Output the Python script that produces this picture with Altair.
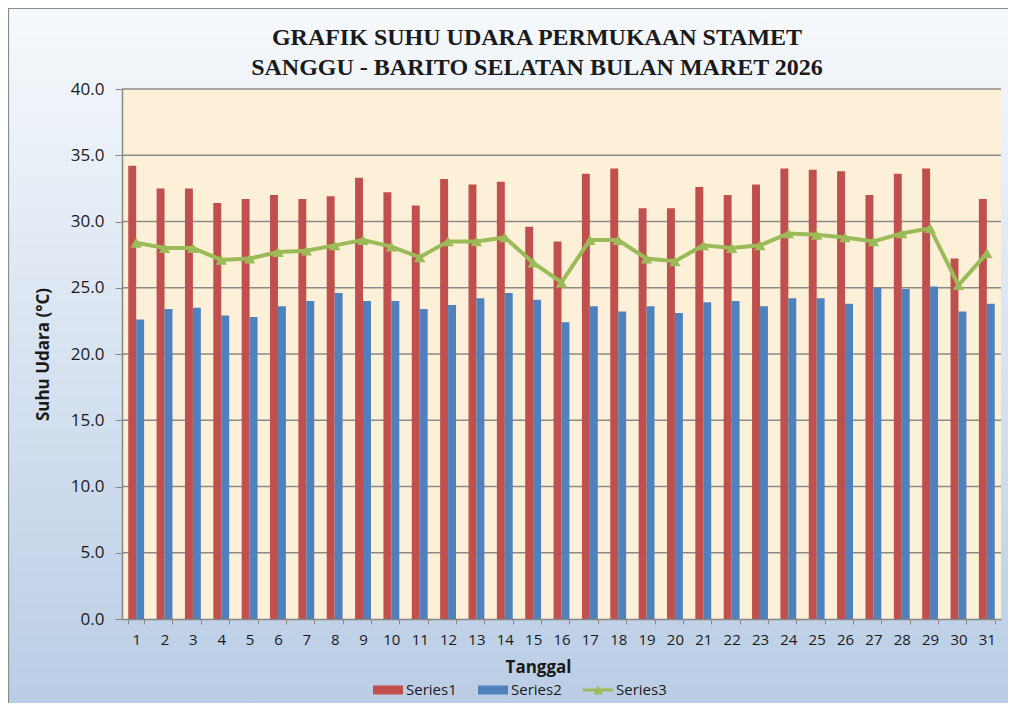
import altair as alt
import pandas as pd

tanggal = list(range(1, 32))
series1 = [34.2, 32.5, 32.5, 31.4, 31.7, 32.0, 31.7, 31.9, 33.3, 32.2,
           31.2, 33.2, 32.8, 33.0, 29.6, 28.5, 33.6, 34.0, 31.0, 31.0,
           32.6, 32.0, 32.8, 34.0, 33.9, 33.8, 32.0, 33.6, 34.0, 27.2, 31.7]
series2 = [22.6, 23.4, 23.5, 22.9, 22.8, 23.6, 24.0, 24.6, 24.0, 24.0,
           23.4, 23.7, 24.2, 24.6, 24.1, 22.4, 23.6, 23.2, 23.6, 23.1,
           23.9, 24.0, 23.6, 24.2, 24.2, 23.8, 25.0, 24.9, 25.1, 23.2, 23.8]
series3 = [28.4, 28.0, 28.0, 27.1, 27.2, 27.7, 27.8, 28.2, 28.6, 28.1,
           27.3, 28.5, 28.5, 28.8, 26.9, 25.4, 28.6, 28.6, 27.2, 27.0,
           28.2, 28.0, 28.2, 29.1, 29.0, 28.8, 28.5, 29.1, 29.5, 25.2, 27.6]
series_names = ["Series1", "Series2", "Series3"]
series_colors = ["#C0504D", "#4F81BD", "#9BBB59"]
y_ticks = [0, 5, 10, 15, 20, 25, 30, 35, 40]
title_lines = ["GRAFIK SUHU UDARA PERMUKAAN STAMET",
               "SANGGU - BARITO SELATAN BULAN MARET 2026"]
y_title = "Suhu Udara (°C)"
x_title = "Tanggal"

W, H = 879, 530
LABEL_FONT = "Open Sans"

bars_df = pd.DataFrame({
    "tanggal": tanggal * 2,
    "series": ["Series1"] * len(tanggal) + ["Series2"] * len(tanggal),
    "value": series1 + series2,
})
line_df = pd.DataFrame({"tanggal": tanggal, "series": "Series3", "value": series3})
grid_df = pd.DataFrame({"value": y_ticks[1:]})
one_df = pd.DataFrame({"k": [0]})

x_scale = alt.Scale(type="band", paddingInner=0.44, paddingOuter=0.22)
y_scale = alt.Scale(domain=[0, 40], nice=False)
color_scale = alt.Scale(domain=series_names, range=series_colors)
rect_path = "M-1,-0.3H1V0.3H-1Z"
line_path = "M-1,-0.1H1V0.1H-1Z M-0.32,0.3L0,-0.3L0.32,0.3Z"
shape_scale = alt.Scale(domain=series_names, range=[rect_path, rect_path, line_path])

legend = alt.Legend(
    title=None, orient="none", legendX=251, legendY=586, direction="horizontal",
    symbolSize=900, symbolStrokeWidth=0, labelFont=LABEL_FONT, labelFontSize=15,
    labelColor="#1a1a1a", labelOffset=3, columnPadding=21,
)

x_axis = alt.Axis(
    labelAngle=0, labelFont=LABEL_FONT, labelFontSize=15, labelColor="#1a1a1a",
    labelPadding=8, tickSize=5, tickColor="#868686", tickBand="extent",
    domainColor="#868686", domainWidth=1.5,
    titleFont=LABEL_FONT, titleFontSize=17, titleFontWeight="bold", titleColor="#1a1a1a",
    titleX=416, titleY=48, titleBaseline="middle", titleAlign="center", zindex=1,
)
y_axis = alt.Axis(
    values=y_ticks, format=".1f", grid=False, labelFont=LABEL_FONT, labelFontSize=17,
    labelColor="#1a1a1a", labelPadding=11, tickSize=7, tickColor="#868686",
    domainColor="#868686", domainWidth=1.5,
    titleFont=LABEL_FONT, titleFontSize=17, titleFontWeight="bold", titleColor="#1a1a1a",
    titlePadding=18, zindex=1,
)

X = alt.X("tanggal:O", scale=x_scale, axis=x_axis, title=x_title)
Y = alt.Y("value:Q", scale=y_scale, axis=y_axis, title=y_title)

bg = alt.Chart(one_df).mark_rect(
    fill=alt.Gradient(
        gradient="linear",
        stops=[alt.GradientStop(color="#f6f9fc", offset=0),
               alt.GradientStop(color="#d6e2f0", offset=0.5),
               alt.GradientStop(color="#b7cbe4", offset=1)],
        x1=0, x2=0, y1=0, y2=1,
    ),
    stroke="#8c8c8c", strokeWidth=1.2,
).encode(
    x=alt.value(-113.5), x2=alt.value(W + 40),
    y=alt.value(-80.5), y2=alt.value(H + 120),
)

title_style = dict(font="Liberation Serif", fontSize=24, fontWeight="bold",
                   color="#1a1a1a", align="center", baseline="alphabetic")
title1 = alt.Chart(one_df).mark_text(**title_style).encode(
    x=alt.value(415), y=alt.value(-44), text=alt.value(title_lines[0]),
)
title2 = alt.Chart(one_df).mark_text(**title_style).encode(
    x=alt.value(415), y=alt.value(-14), text=alt.value(title_lines[1]),
)

plot_bg = alt.Chart(one_df).mark_rect(fill="#fcf0d8").encode(
    x=alt.value(0), x2=alt.value(W), y=alt.value(0), y2=alt.value(H),
)

grid = alt.Chart(grid_df).mark_rule(color="#8a8a8a", strokeWidth=1.5).encode(
    y=Y,
)

bars = alt.Chart(bars_df).mark_bar(opacity=1).encode(
    x=X,
    xOffset=alt.XOffset("series:N", scale=alt.Scale(paddingInner=0, paddingOuter=0)),
    y=Y,
    color=alt.Color("series:N", scale=color_scale, legend=legend),
)

line = alt.Chart(line_df).mark_line(strokeWidth=4, color="#9BBB59").encode(
    x=X, y=Y,
)

points = alt.Chart(line_df).mark_point(
    shape="triangle-up", filled=True, size=130, color="#9BBB59", opacity=1
).encode(x=X, y=Y)

legend_layer = alt.Chart(line_df).mark_point(filled=True, opacity=1).encode(
    x=X, y=Y,
    color=alt.Color("series:N", scale=color_scale, legend=legend),
    shape=alt.Shape("series:N", scale=shape_scale, legend=legend),
).transform_filter("false")

chart = alt.layer(bg, title1, title2, plot_bg, grid, bars, line, points, legend_layer).properties(
    width=W, height=H,
    autosize=alt.AutoSizeParams(type="none"),
    padding={"left": 114, "top": 81, "right": 7, "bottom": 84},
).configure_view(stroke=None).configure(background="white")

chart.save("out.html", embed_options={"renderer": "svg", "actions": False})
